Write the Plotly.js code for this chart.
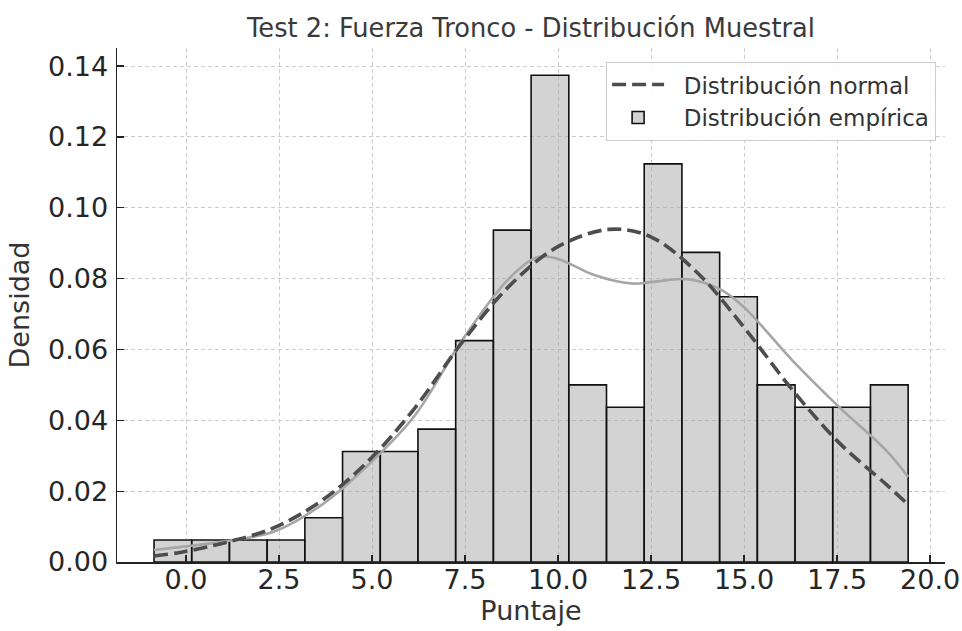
<!DOCTYPE html>
<html>
<head>
<meta charset="utf-8">
<script src="https://cdn.plot.ly/plotly-3.0.1.min.js"></script>
<style>
  html, body { margin: 0; padding: 0; background: #ffffff; }
  #chart { width: 962px; height: 631px; }
</style>
</head>
<body>
<div id="chart"></div>
<script>
// Histogram of scores, on a density scale
const binCenters = [-0.353, 0.660, 1.674, 2.687, 3.701, 4.714, 5.728, 6.741, 7.755, 8.768,
                    9.782, 10.795, 11.809, 12.822, 13.836, 14.849, 15.863, 16.876, 17.890, 18.903];
const binWidth = 1.0135;
const density = [0.0062, 0.0062, 0.0062, 0.0062, 0.0125, 0.0312, 0.0312, 0.0375, 0.0625, 0.0937,
                 0.1374, 0.0500, 0.0437, 0.1124, 0.0874, 0.0749, 0.0500, 0.0437, 0.0437, 0.0500];

// Fitted normal curve
const normalX = [-0.86, -0.16, 1.10, 2.37, 3.63, 4.89, 6.16, 7.42, 8.68, 9.96,
                 11.37, 12.49, 13.75, 15.03, 16.29, 17.55, 18.82, 19.41];
const normalY = [0.0017, 0.0027, 0.0056, 0.0097, 0.0172, 0.0284, 0.0436, 0.0620, 0.0778, 0.0888,
                 0.0939, 0.0918, 0.0816, 0.0658, 0.0487, 0.0337, 0.0219, 0.0162];

// Kernel density estimate of the sample
const kdeX = [-0.86, -0.16, 1.10, 2.37, 3.63, 4.89, 6.16, 7.42, 8.68, 9.44, 9.96,
              10.97, 11.98, 12.49, 13.49, 14.41, 15.03, 16.29, 17.55, 18.82, 19.41];
const kdeY = [0.0034, 0.0042, 0.0059, 0.0086, 0.0160, 0.0273, 0.0415, 0.0626, 0.0800, 0.0860, 0.0857,
              0.0810, 0.0786, 0.0790, 0.0798, 0.0767, 0.0716, 0.0570, 0.0438, 0.0315, 0.0240];

const xTicks = [0, 2.5, 5, 7.5, 10, 12.5, 15, 17.5, 20];
const yTicks = [0, 0.02, 0.04, 0.06, 0.08, 0.10, 0.12, 0.14];

const FONT = 'DejaVu Sans, Liberation Sans, sans-serif';
// a little breathing room between legend symbols and their labels
const PAD = '\u00a0\u00a0';

const bars = {
  type: 'bar',
  x: binCenters,
  y: density,
  width: binCenters.map(() => binWidth),
  name: PAD + 'Distribución empírica',
  legendrank: 2,
  marker: { color: 'rgba(170,170,170,0.52)', line: { color: '#111111', width: 1.6 } },
  hoverinfo: 'skip'
};

const kde = {
  type: 'scatter',
  mode: 'lines',
  x: kdeX,
  y: kdeY,
  line: { color: '#a6a6a6', width: 2.6, shape: 'spline', smoothing: 1 },
  showlegend: false,
  hoverinfo: 'skip'
};

const normal = {
  type: 'scatter',
  mode: 'lines',
  x: normalX,
  y: normalY,
  name: PAD + 'Distribución normal',
  legendrank: 1,
  line: { color: '#4d4d4d', width: 3.6, dash: '14px,6px', shape: 'spline', smoothing: 1 },
  hoverinfo: 'skip'
};

const axisCommon = {
  showline: true,
  linecolor: '#222222',
  linewidth: 1.5,
  mirror: false,
  ticks: 'inside',
  ticklen: 7,
  tickwidth: 1.3,
  tickcolor: '#222222',
  showgrid: true,
  gridcolor: '#cccccc',
  gridwidth: 1,
  griddash: '4px,3px',
  zeroline: false,
  tickfont: { family: FONT, size: 27, color: '#262626' }
};

const layout = {
  width: 962,
  height: 631,
  margin: { l: 117, r: 17, t: 48, b: 69, pad: 0 },
  paper_bgcolor: '#ffffff',
  plot_bgcolor: '#ffffff',
  font: { family: FONT, color: '#333333' },
  bargap: 0,
  title: {
    text: 'Test 2: Fuerza Tronco - Distribución Muestral',
    font: { family: FONT, size: 25.7, color: '#3a3a3a' },
    x: 0.5, xref: 'paper', xanchor: 'center',
    y: 1 - 28 / 631, yref: 'container', yanchor: 'middle'
  },
  xaxis: Object.assign({}, axisCommon, {
    range: [-1.855, 20.4],
    tickmode: 'array',
    tickvals: xTicks,
    ticktext: xTicks.map(v => v.toFixed(1)),
    ticklabelstandoff: -7,
    title: { text: 'Puntaje', font: { family: FONT, size: 27, color: '#333333' }, standoff: 2 }
  }),
  yaxis: Object.assign({}, axisCommon, {
    range: [0, 0.1451],
    tickmode: 'array',
    tickvals: yTicks,
    ticktext: yTicks.map(v => v.toFixed(2)),
    ticklabelstandoff: 2,
    title: { text: 'Densidad', font: { family: FONT, size: 27, color: '#333333' }, standoff: 10 }
  }),
  legend: {
    x: 0.989, xanchor: 'right', xref: 'paper',
    y: 0.973, yanchor: 'top', yref: 'paper',
    bgcolor: 'rgba(255,255,255,0.85)',
    bordercolor: '#cccccc',
    borderwidth: 1.2,
    itemwidth: 52,
    font: { family: FONT, size: 23, color: '#333333' },
    traceorder: 'normal'
  },
  showlegend: true
};

Plotly.newPlot('chart', [bars, kde, normal], layout, { displayModeBar: false, staticPlot: true });
</script>
</body>
</html>
